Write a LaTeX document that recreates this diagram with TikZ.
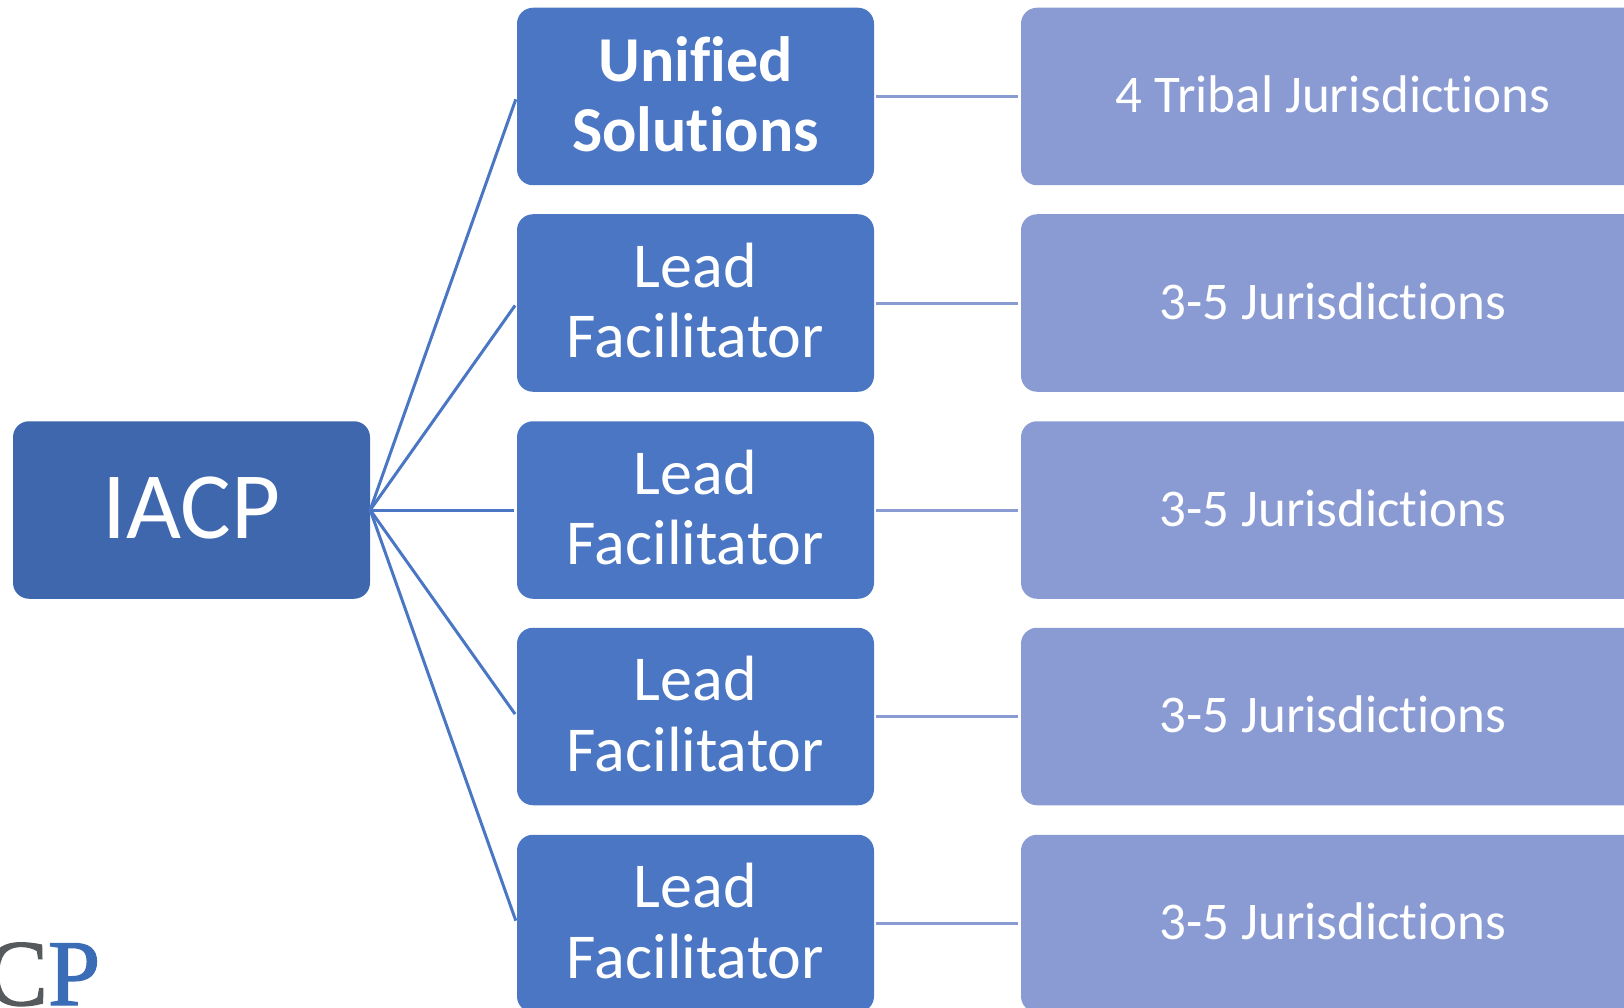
\documentclass[tikz,border=0pt]{standalone}
\usepackage{fontspec}
\setmainfont[Ligatures=NoCommon]{Carlito}
\newfontfamily\logofont[FakeBold=1.5]{Liberation Serif}
\usepackage{xcolor}
\usetikzlibrary{positioning}
\definecolor{rootblue}{HTML}{3F67AE}
\definecolor{leadblue}{HTML}{4A76C4}
\definecolor{jurisblue}{HTML}{8A9BD3}
\tikzset{box/.style={rounded corners=16pt, inner sep=0pt, text=white, align=center, minimum height=177.5pt}}
\tikzset{rootbox/.style={box, fill=rootblue, minimum width=357pt, text depth=5pt, font=\fontsize{95}{100}\selectfont}}
\tikzset{leadbox/.style={box, fill=leadblue, minimum width=357pt, text depth=5pt, font=\fontsize{64}{70.5}\selectfont}}
\tikzset{jurisbox/.style={box, fill=jurisblue, minimum width=624pt, text depth=4pt, font=\fontsize{53}{60}\selectfont}}
\tikzset{arr/.style={draw=leadblue, line width=3pt, shorten >=3pt}}
\tikzset{arr1/.style={draw=jurisblue, line width=3pt, shorten <=1.5pt, shorten >=2.5pt}}
\begin{document}
\begin{tikzpicture}[x=1pt,y=-1pt]
	\useasboundingbox (0,0) rectangle (1624,1008);
	\node[rootbox] (iacp) at (191.5,510) {IACP};
	\node[leadbox] (lead1) at (695.5,96.5) {\textbf{Unified}\\\textbf{Solutions}};
	\node[leadbox] (lead2) at (695.5,303) {Lead\\Facilitator};
	\node[leadbox] (lead3) at (695.5,510) {Lead\\Facilitator};
	\node[leadbox] (lead4) at (695.5,716.5) {Lead\\Facilitator};
	\node[leadbox] (lead5) at (695.5,923.5) {Lead\\Facilitator};
	\node[jurisbox] (juris1) at (1333,96.5) {4 Tribal Jurisdictions};
	\node[jurisbox] (juris2) at (1333,303) {3-5 Jurisdictions};
	\node[jurisbox] (juris3) at (1333,510) {3-5 Jurisdictions};
	\node[jurisbox] (juris4) at (1333,716.5) {3-5 Jurisdictions};
	\node[jurisbox] (juris5) at (1333,923.5) {3-5 Jurisdictions};
	\node[inner sep=0pt, anchor=base west, font=\fontsize{94}{94}\logofont] (logo) at (-15,1005) {\textcolor[HTML]{565A5C}{C}\textcolor[HTML]{3A6DB5}{P}};
	% spokes out of the root box
	\draw[arr] (iacp.east) -- (lead1.west);
	\draw[arr] (iacp.east) -- (lead2.west);
	\draw[arr] (iacp.east) -- (lead3.west);
	\draw[arr] (iacp.east) -- (lead4.west);
	\draw[arr] (iacp.east) -- (lead5.west);
	\draw[arr1] (lead1) -- (juris1);
	\draw[arr1] (lead2) -- (juris2);
	\draw[arr1] (lead3) -- (juris3);
	\draw[arr1] (lead4) -- (juris4);
	\draw[arr1] (lead5) -- (juris5);
\end{tikzpicture}
\end{document}
